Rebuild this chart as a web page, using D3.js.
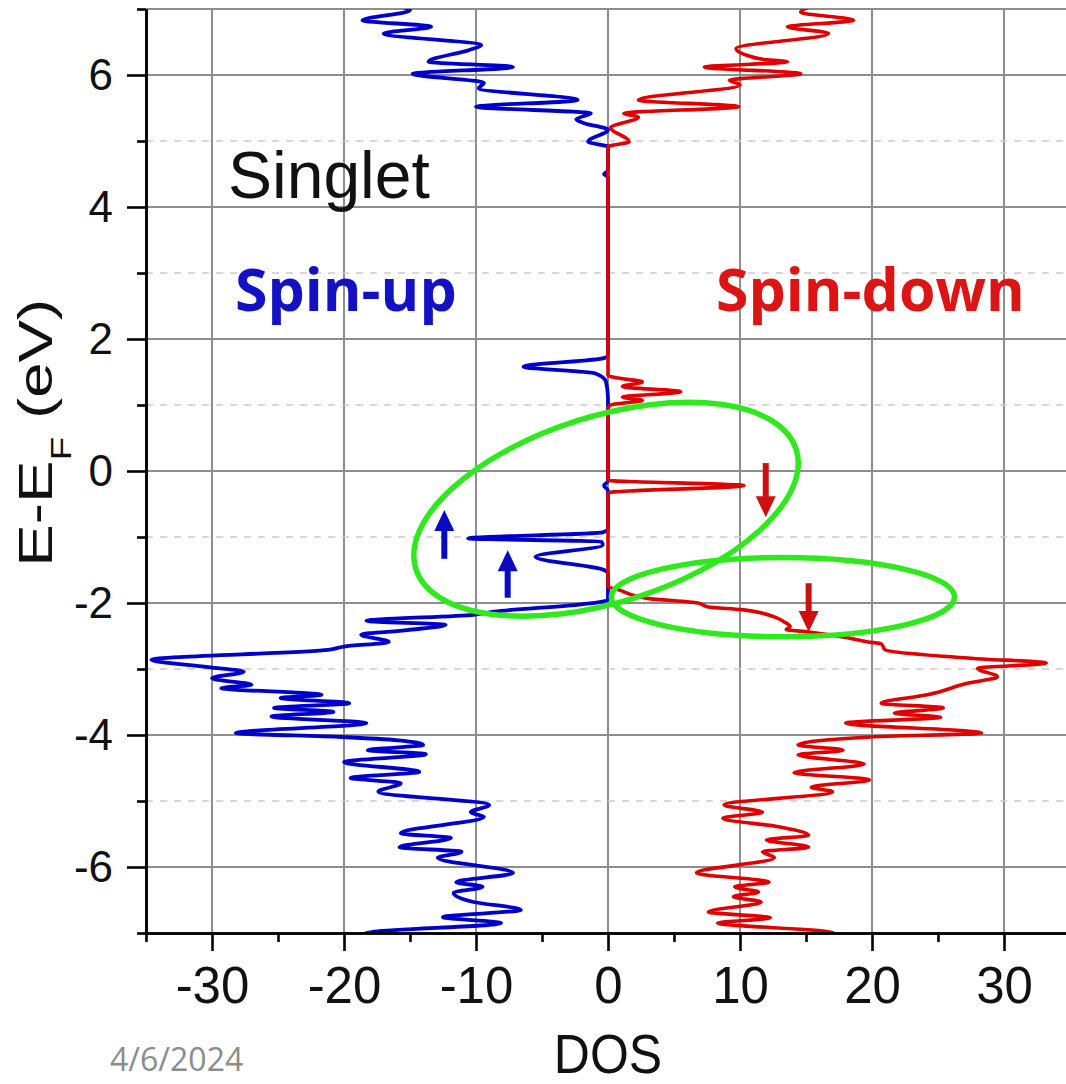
<!DOCTYPE html>
<html>
<head>
<meta charset="utf-8">
<script src="https://cdn.jsdelivr.net/npm/d3@7"></script>
<style>
  body { margin: 0; background: #fff; }
  svg { display: block; }
</style>
</head>
<body>
<svg id="chart" width="1066" height="1084"></svg>
<script>
// Spin-resolved density of states, [E - E_F (eV), DOS]; spin-up drawn as negative DOS
const spinUp = [
  [7.05, -16.0], [6.98, -15.0], [6.83, -18.6], [6.73, -13.4], [6.63, -17.0],
  [6.45, -9.6], [6.38, -10.5], [6.20, -13.6], [6.12, -7.2], [6.02, -14.8],
  [5.88, -9.4], [5.80, -9.8], [5.62, -2.3], [5.52, -10.0], [5.42, -1.3],
  [5.33, -2.4], [5.27, -1.8], [5.17, 0], [4.99, -1.5], [4.91, 0],
  [4.55, 0], [4.50, -0.3], [4.45, 0], [1.75, 0], [1.71, -0.3],
  [1.58, -6.4], [1.48, -1.0], [1.35, -0.15], [1.10, 0], [-0.15, 0],
  [-0.22, -0.3], [-0.30, 0], [-0.88, 0], [-0.93, -0.4], [-1.02, -10.6],
  [-1.07, -0.5], [-1.12, -0.4], [-1.30, -5.5], [-1.50, -0.3], [-1.55, 0],
  [-1.95, 0], [-2.02, -2.0], [-2.13, -8.6], [-2.18, -10.2], [-2.27, -18.3],
  [-2.33, -12.3], [-2.41, -15.2], [-2.48, -18.7], [-2.59, -16.6], [-2.66, -20.0],
  [-2.71, -21.2], [-2.86, -34.6], [-2.97, -30.3], [-3.04, -27.6], [-3.14, -30.0],
  [-3.24, -27.0], [-3.29, -29.3], [-3.39, -21.7], [-3.44, -24.8], [-3.52, -19.6],
  [-3.59, -25.3], [-3.65, -20.8], [-3.72, -25.5], [-3.82, -18.3], [-3.97, -28.2],
  [-4.03, -20.2], [-4.08, -15.9], [-4.15, -14.0], [-4.23, -18.2], [-4.29, -13.8],
  [-4.41, -20.0], [-4.56, -14.3], [-4.65, -19.5], [-4.73, -15.7], [-4.86, -17.4],
  [-5.06, -9.0], [-5.17, -10.4], [-5.24, -9.4], [-5.49, -15.7], [-5.56, -11.9],
  [-5.70, -15.8], [-5.77, -11.1], [-5.86, -12.9], [-6.09, -7.2], [-6.23, -11.5],
  [-6.30, -9.5], [-6.39, -11.7], [-6.53, -10.2], [-6.65, -6.6], [-6.76, -12.5],
  [-6.85, -8.1], [-6.98, -17.7], [-7.05, -19.0]
];

const spinDown = [
  [7.05, 15.5], [6.95, 14.6], [6.83, 18.6], [6.73, 13.6], [6.63, 16.7],
  [6.40, 9.7], [6.30, 10.5], [6.24, 11.7], [6.20, 13.6], [6.12, 7.3],
  [6.02, 14.6], [5.92, 9.2], [5.85, 10.0], [5.62, 2.3], [5.52, 9.9],
  [5.42, 1.2], [5.36, 2.3], [5.20, 0.2], [4.99, 1.6], [4.91, 0],
  [1.45, 0], [1.40, 1.0], [1.35, 2.6], [1.28, 1.1], [1.20, 5.5],
  [1.12, 1.1], [1.07, 2.6], [1.00, 0.2], [0.95, 0], [-0.14, 0],
  [-0.22, 10.3], [-0.33, 0], [-1.75, 0], [-1.80, 0.8], [-1.93, 3.0],
  [-2.00, 6.8], [-2.06, 7.6], [-2.10, 10.1], [-2.21, 12.6], [-2.28, 13.3],
  [-2.36, 13.8], [-2.40, 13.5], [-2.44, 15.2], [-2.51, 17.7], [-2.59, 19.7],
  [-2.62, 20.7], [-2.71, 21.0], [-2.84, 27.7], [-2.91, 33.2], [-2.99, 28.0],
  [-3.12, 29.5], [-3.21, 27.4], [-3.39, 24.2], [-3.52, 20.7], [-3.59, 25.4],
  [-3.67, 21.7], [-3.73, 25.2], [-3.82, 18.0], [-3.97, 28.3], [-4.03, 19.9],
  [-4.15, 14.4], [-4.23, 17.8], [-4.30, 14.4], [-4.44, 19.4], [-4.57, 14.1],
  [-4.68, 19.8], [-4.79, 15.4], [-4.86, 17.0], [-5.06, 8.8], [-5.17, 11.7],
  [-5.26, 8.7], [-5.39, 12.9], [-5.52, 15.2], [-5.59, 12.0], [-5.70, 15.2],
  [-5.77, 11.7], [-5.86, 12.6], [-6.09, 6.7], [-6.23, 12.2], [-6.30, 9.6],
  [-6.38, 11.4], [-6.45, 9.5], [-6.53, 11.6], [-6.68, 7.6], [-6.77, 12.3],
  [-6.85, 8.3], [-6.98, 16.7], [-7.05, 17.5]
];

const xMajorTicks = [-30, -20, -10, 0, 10, 20, 30];
const xMinorTicks = [-35, -25, -15, -5, 5, 15, 25, 35];
const yMajorTicks = [-6, -4, -2, 0, 2, 4, 6];
const yMinorTicks = [-7, -5, -3, -1, 1, 3, 5, 7];

// Highlighted states: ellipses (centre in data units, radii in DOS / eV, tilt in degrees)
const highlightEllipses = [
  { cx: -0.15, cy: -0.58, rx: 15.1, ry: 1.41, tilt: -17.4 },
  { cx: 13.25, cy: -1.91, rx: 13.0, ry: 0.60, tilt: 0 }
];
// Spin arrows: DOS position, start energy, tip energy
const spinArrows = [
  { dos: -12.4, from: -1.33, to: -0.59, color: "#0a0ac0" },
  { dos: -7.6, from: -1.92, to: -1.20, color: "#0a0ac0" },
  { dos: 11.95, from: 0.12, to: -0.70, color: "#cc1010" },
  { dos: 15.2, from: -1.70, to: -2.44, color: "#cc1010" }
];

const svg = d3.select("#chart");
const W = 1066, H = 1084;
const plotLeft = 146, plotTop = 9, plotBottom = 933, plotRight = 1070;

const x = d3.scaleLinear().domain([-35, 35]).range([plotLeft, plotRight]);
const y = d3.scaleLinear().domain([-7, 7]).range([plotBottom, plotTop]);

const font = "'Liberation Sans', Arial, sans-serif";

svg.append("rect").attr("width", W).attr("height", H).attr("fill", "#fff");

svg.append("defs").append("clipPath").attr("id", "plotClip")
  .append("rect").attr("x", plotLeft).attr("y", plotTop)
  .attr("width", plotRight - plotLeft).attr("height", plotBottom - plotTop);

// grid
const grid = svg.append("g");
grid.selectAll("line.vmaj").data(xMajorTicks).join("line")
  .attr("x1", d => x(d)).attr("x2", d => x(d)).attr("y1", plotTop).attr("y2", plotBottom)
  .attr("stroke", "#8e8e8e").attr("stroke-width", 2);
grid.selectAll("line.hmaj").data(yMajorTicks.concat([7])).join("line")
  .attr("x1", plotLeft).attr("x2", plotRight).attr("y1", d => y(d)).attr("y2", d => y(d))
  .attr("stroke", "#8e8e8e").attr("stroke-width", 2);
grid.selectAll("line.hmin").data(yMinorTicks.filter(d => Math.abs(d) < 7)).join("line")
  .attr("x1", plotLeft).attr("x2", plotRight).attr("y1", d => y(d)).attr("y2", d => y(d))
  .attr("stroke", "#cccccc").attr("stroke-width", 1.6).attr("stroke-dasharray", "7,7");

// DOS curves
const line = d3.line()
  .x(d => x(d[1]))
  .y(d => y(d[0]))
  .curve(d3.curveMonotoneY);

const curves = svg.append("g").attr("clip-path", "url(#plotClip)");
curves.append("path").datum(spinUp)
  .attr("d", line).attr("fill", "none").attr("stroke", "#0000cc")
  .attr("stroke-width", 3.8).attr("stroke-linejoin", "round");
curves.append("path").datum(spinDown)
  .attr("d", line).attr("fill", "none").attr("stroke", "#e00000")
  .attr("stroke-width", 3.6).attr("stroke-linejoin", "round");

// axes
function styleAxis(g) {
  g.select(".domain").attr("stroke", "#000").attr("stroke-width", 2.6);
  g.selectAll(".tick line").attr("stroke", "#000").attr("stroke-width", 2.6);
}

const yAxisMajor = svg.append("g").attr("transform", `translate(${plotLeft},0)`)
  .call(d3.axisLeft(y).tickValues(yMajorTicks).tickSize(19).tickSizeOuter(0).tickPadding(14)
    .tickFormat(d => String(d)));
styleAxis(yAxisMajor);
yAxisMajor.selectAll(".tick text").attr("font-family", font).attr("font-size", 44).attr("fill", "#111");

const yAxisMinor = svg.append("g").attr("transform", `translate(${plotLeft},0)`)
  .call(d3.axisLeft(y).tickValues(yMinorTicks).tickSize(9).tickSizeOuter(0).tickFormat(""));
styleAxis(yAxisMinor);

const xAxisMajor = svg.append("g").attr("transform", `translate(0,${plotBottom})`)
  .call(d3.axisBottom(x).tickValues(xMajorTicks).tickSize(18).tickSizeOuter(0).tickPadding(16)
    .tickFormat(d => String(d)));
styleAxis(xAxisMajor);
xAxisMajor.selectAll(".tick text").attr("font-family", font).attr("font-size", 51).attr("fill", "#111");

const xAxisMinor = svg.append("g").attr("transform", `translate(0,${plotBottom})`)
  .call(d3.axisBottom(x).tickValues(xMinorTicks).tickSize(9).tickSizeOuter(0).tickFormat(""));
styleAxis(xAxisMinor);

// axis titles
svg.append("text")
  .attr("transform", `translate(${x(0)}, 1073) scale(1, 1.1)`)
  .attr("text-anchor", "middle")
  .attr("font-family", font).attr("font-size", 50).attr("fill", "#111")
  .text("DOS");

const yTitle = svg.append("text")
  .attr("transform", `translate(52, ${y(0.58)}) rotate(-90) scale(1.3, 1)`)
  .attr("text-anchor", "middle")
  .attr("font-family", font).attr("font-size", 49).attr("fill", "#111");
yTitle.append("tspan").text("E-E");
yTitle.append("tspan").attr("font-size", 30).attr("dy", 19).text("F");
yTitle.append("tspan").attr("dy", -19).text(" (eV)");

// in-plot labels
svg.append("text")
  .attr("x", 228).attr("y", 198)
  .attr("font-family", font).attr("font-size", 66).attr("fill", "#111")
  .text("Singlet");
svg.append("text")
  .attr("x", 235).attr("y", 311)
  .attr("font-family", "'Open Sans', sans-serif").attr("font-weight", 700)
  .attr("font-size", 59).attr("fill", "#1212c4")
  .text("Spin-up");
svg.append("text")
  .attr("x", 716).attr("y", 311)
  .attr("font-family", "'Open Sans', sans-serif").attr("font-weight", 700)
  .attr("font-size", 59).attr("fill", "#dc1414")
  .text("Spin-down");

// date stamp
svg.append("text")
  .attr("x", 110).attr("y", 1071)
  .attr("font-family", "'Open Sans', sans-serif").attr("font-size", 32).attr("fill", "#8c8c8c")
  .text("4/6/2024");

// highlight ellipses
svg.append("g").selectAll("ellipse").data(highlightEllipses).join("ellipse")
  .attr("transform", d => `translate(${x(d.cx)},${y(d.cy)}) rotate(${d.tilt})`)
  .attr("rx", d => x(d.rx) - x(0))
  .attr("ry", d => y(0) - y(d.ry))
  .attr("fill", "none").attr("stroke", "#2eea1c").attr("stroke-width", 5.5);

// spin arrows
const arrowG = svg.append("g");
const headLen = 21, headHalf = 10;
spinArrows.forEach(a => {
  const px = x(a.dos), y0 = y(a.from), y1 = y(a.to);
  const dir = Math.sign(y1 - y0);
  arrowG.append("line")
    .attr("x1", px).attr("x2", px).attr("y1", y0).attr("y2", y1 - dir * headLen * 0.8)
    .attr("stroke", a.color).attr("stroke-width", 6);
  arrowG.append("path")
    .attr("d", `M${px},${y1} L${px - headHalf},${y1 - dir * headLen} L${px + headHalf},${y1 - dir * headLen} Z`)
    .attr("fill", a.color);
});
</script>
</body>
</html>
